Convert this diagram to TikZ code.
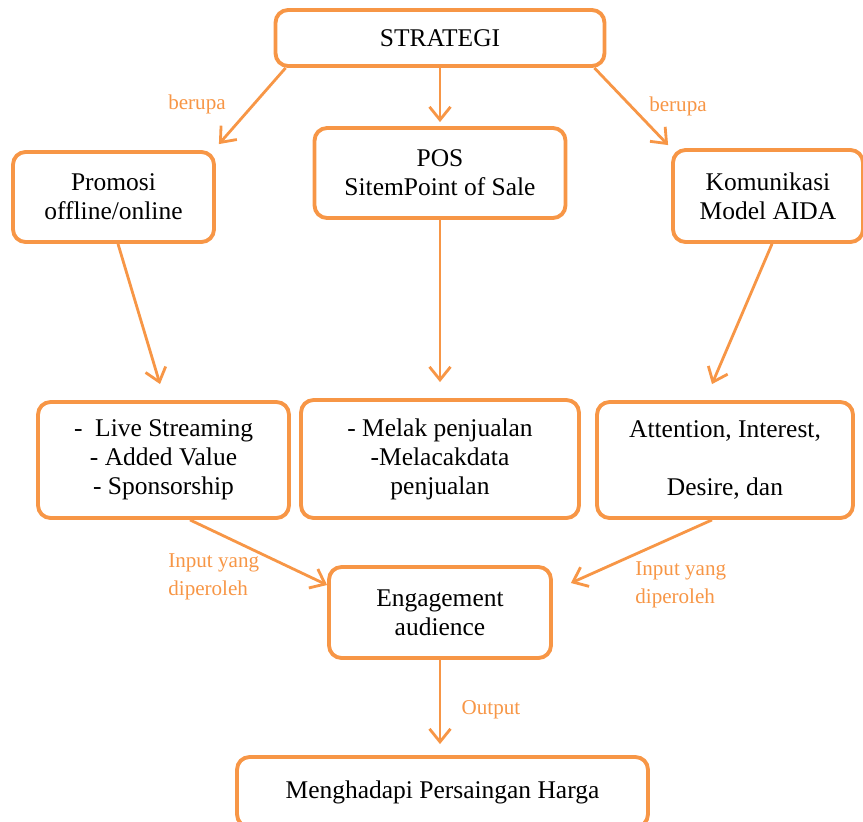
\documentclass[tikz,border=0pt]{standalone}
\usepackage{fontspec}
\setmainfont{Liberation Serif}
\usetikzlibrary{arrows.meta,calc}
\definecolor{oranye}{HTML}{F79646}
\tikzset{
	kotak/.style={draw=oranye,line width=2.2pt,rounded corners=0.25cm,align=center,inner sep=0pt,font=\fontsize{14.5}{16.5}\selectfont},
	panah/.style={draw=oranye,line width=1.6pt,-{Straight Barb[length=0.26cm,width=0.42cm]}},
	ket/.style={text=oranye,font=\fontsize{12}{16}\selectfont}
}
\begin{document}
\begin{tikzpicture}[x=0.02cm,y=-0.02cm]
		\useasboundingbox (0,0) rectangle (863,822);
		\node[kotak,minimum width=6.58cm,minimum height=1.12cm] (strategi) at (440,38) {STRATEGI};
		\node[kotak,minimum width=4.02cm,minimum height=1.8cm] (promosi) at (113.5,197) {Promosi\\offline/online};
		\node[kotak,minimum width=5.02cm,minimum height=1.8cm] (pos) at (440,173) {POS\\SitemPoint of Sale};
		\node[kotak,minimum width=3.8cm,minimum height=1.84cm] (komunikasi) at (768,196) {Komunikasi\\Model AIDA};
		\node[kotak,minimum width=5.02cm,minimum height=2.32cm] (live) at (163.5,460) {-~ Live Streaming\\- Added Value\\- Sponsorship};
		\node[kotak,minimum width=5.56cm,minimum height=2.36cm] (melak) at (440,459) {- Melak penjualan\\-Melacakdata\\penjualan};
		\node[kotak,minimum width=5.12cm,minimum height=2.32cm] (attention) at (725,460) {Attention, Interest,\\[16.5pt]Desire, dan};
		\node[kotak,minimum width=4.44cm,minimum height=1.82cm] (engage) at (440,612.5) {Engagement\\audience};
		\node[kotak,minimum width=8.22cm,minimum height=1.4cm] (harga) at (442.5,792) {Menghadapi Persaingan Harga};
		\draw[panah] ($(strategi.south west)+(12,0)$) -- ($(promosi.north east)+(3,-6)$);
		\draw[panah] (strategi.south) -- ($(pos.north)+(0,-4)$);
		\draw[panah] ($(strategi.south east)+(-12,0)$) -- ($(komunikasi.north west)+(-3,-3)$);
		\draw[panah] ($(promosi.south)+(4.5,0)$) -- ($(live.north)+(-3.5,-16)$);
		\draw[panah] (pos.south) -- ($(melak.north)+(0,-16)$);
		\draw[panah] ($(komunikasi.south)+(4,0)$) -- ($(attention.north)+(-13,-16)$);
		\draw[panah] ($(live.south)+(26.5,0)$) -- ($(engage.west)+(0,-27.5)$);
		\draw[panah] ($(attention.south)+(-13,0)$) -- ($(engage.east)+(18,-29.5)$);
		\draw[panah] (engage.south) -- ($(harga.north)+(-2.5,-11)$);
		\node[ket] (berupa1) at (197,104) {berupa};
		\node[ket] (berupa2) at (678,106) {berupa};
		\node[ket,align=left,anchor=west,inner sep=0pt] (input1) at (168,577) {Input yang\\diperoleh};
		\node[ket,align=left,anchor=west,inner sep=0pt] (input2) at (635,585) {Input yang\\diperoleh};
		\node[ket] (output) at (491,710) {Output};
	\end{tikzpicture}
\end{document}
